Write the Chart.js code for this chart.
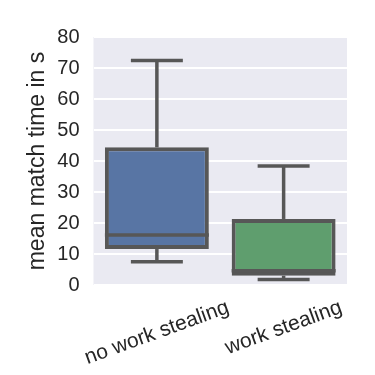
<!DOCTYPE html>
<html>
<head>
<meta charset="utf-8">
<script src="https://cdn.jsdelivr.net/npm/chart.js@4"></script>
<style>
  html, body { margin: 0; padding: 0; background: #fff; }
  #wrap { width: 375px; height: 375px; }
</style>
</head>
<body>
<div id="wrap"><canvas id="box"></canvas></div>
<script>
// box plot stats
const categories = ['no work stealing', 'work stealing'];
const whiskerLow = [7.5, 1.8];
const q1 = [11.6, 3.0];
const median = [16.1, 4.6];
const q3 = [44.4, 21.3];
const whiskerHigh = [72.4, 38.4];
const yTicks = [0, 10, 20, 30, 40, 50, 60, 70, 80];

const boxColors = ['#5875A4', '#5F9E6E'];
const lineGray = '#575757';
const fontFamily = '"Liberation Sans", Arial, sans-serif';

// background, whiskers, medians, rotated x labels
const boxPlugin = {
    id: 'boxExtras',
    beforeDraw(chart) {
        const a = chart.chartArea, c = chart.ctx;
        c.save();
        c.fillStyle = '#EAEAF2';
        c.fillRect(a.left, a.top, a.right - a.left, a.bottom - a.top);
        c.restore();
    },
    afterDatasetsDraw(chart) {
        const c = chart.ctx, y = chart.scales.y;
        const bars = chart.getDatasetMeta(0).data;
        c.save();
        c.strokeStyle = lineGray;
        c.lineWidth = 3.5;
        c.lineCap = 'butt';
        bars.forEach((bar, i) => {
            const x = bar.x, half = bar.width / 2, cap = bar.width / 4;
            const line = (x1, y1, x2, y2) => { c.beginPath(); c.moveTo(x1, y1); c.lineTo(x2, y2); c.stroke(); };
            // whiskers
            line(x, y.getPixelForValue(q3[i]), x, y.getPixelForValue(whiskerHigh[i]));
            line(x, y.getPixelForValue(q1[i]), x, y.getPixelForValue(whiskerLow[i]));
            line(x - cap, y.getPixelForValue(whiskerHigh[i]), x + cap, y.getPixelForValue(whiskerHigh[i]));
            line(x - cap, y.getPixelForValue(whiskerLow[i]), x + cap, y.getPixelForValue(whiskerLow[i]));
            // median
            line(x - half, y.getPixelForValue(median[i]), x + half, y.getPixelForValue(median[i]));
        });
        c.restore();
    },
    afterDraw(chart) {
        const c = chart.ctx, xs = chart.scales.x, a = chart.chartArea;
        const ang = 20 * Math.PI / 180, size = 21;
        c.save();
        c.font = size + 'px ' + fontFamily;
        c.fillStyle = '#262626';
        c.textAlign = 'center';
        c.textBaseline = 'middle';
        categories.forEach((lab, i) => {
            const w = c.measureText(lab).width;
            const x = xs.getPixelForTick(i);
            const yc = a.bottom + 12 + (w * Math.sin(ang) + size * Math.cos(ang)) / 2;
            c.save();
            c.translate(x, yc);
            c.rotate(-ang);
            c.fillText(lab, 0, 0);
            c.restore();
        });
        c.restore();
    }
};

new Chart(document.getElementById('box'), {
    type: 'bar',
    data: {
        labels: categories,
        datasets: [{
            data: q1.map((v, i) => [v, q3[i]]),
            backgroundColor: boxColors,
            borderColor: lineGray,
            borderWidth: 4,
            borderSkipped: false,
            barPercentage: 1,
            categoryPercentage: 0.82
        }]
    },
    options: {
        responsive: true, maintainAspectRatio: false, animation: false,
        layout: { padding: { left: 24, top: 37, right: 28, bottom: 90 } },
        plugins: { legend: { display: false }, tooltip: { enabled: false } },
        scales: {
            x: {
                grid: { display: false }, border: { display: false },
                ticks: { display: false },
                afterFit(s) { s.height = 0; }
            },
            y: {
                min: 0, max: 80,
                afterBuildTicks(s) { s.ticks = yTicks.map(v => ({ value: v })); },
                afterFit(s) { s.width = 69.5; },
                grid: { color: '#ffffff', lineWidth: 2, drawTicks: false },
                border: { display: false },
                ticks: { padding: 14, color: '#262626', font: { family: fontFamily, size: 20 } },
                title: {
                    display: true, text: 'mean match time in s', color: '#262626', padding: 0,
                    font: { family: fontFamily, size: 23 }
                }
            }
        }
    },
    plugins: [boxPlugin]
});
</script>
</body>
</html>
